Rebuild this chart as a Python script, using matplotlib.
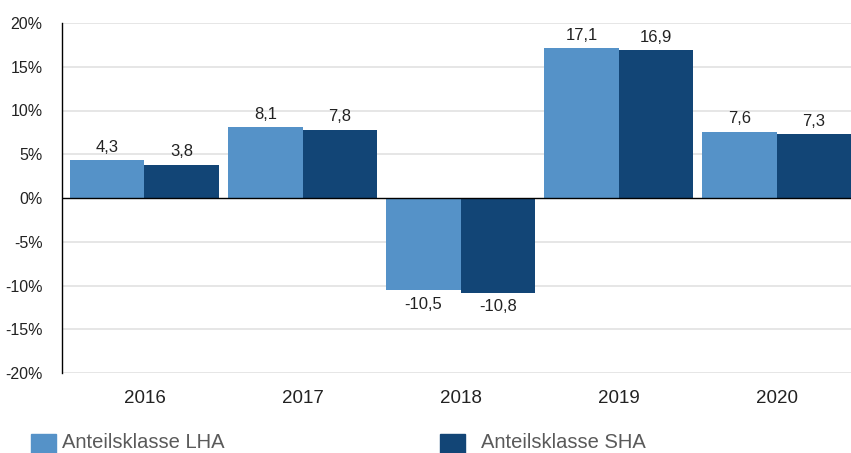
import numpy as np
import matplotlib
matplotlib.use("Agg")
import matplotlib.pyplot as plt
from matplotlib.patches import Rectangle

years = ["2016", "2017", "2018", "2019", "2020"]
lha = [4.3, 8.1, -10.5, 17.1, 7.6]
sha = [3.8, 7.8, -10.8, 16.9, 7.3]
series_names = ["Anteilsklasse LHA", "Anteilsklasse SHA"]
colors = ["#5592c8", "#124576"]
yticks = [-20, -15, -10, -5, 0, 5, 10, 15, 20]

plt.rcParams['font.family'] = ['Liberation Sans', 'DejaVu Sans']

fig = plt.figure(figsize=(8.51, 4.53), dpi=100)
ax = fig.add_axes([62 / 851, 1 - 373 / 453, 1 - 62 / 851, 350 / 453])

x = np.arange(len(years))
w = 0.47
b1 = ax.bar(x - w / 2, lha, w, color=colors[0], zorder=3)
b2 = ax.bar(x + w / 2, sha, w, color=colors[1], zorder=3)

for bars, vals in ((b1, lha), (b2, sha)):
    for r, v in zip(bars, vals):
        cx = r.get_x() + r.get_width() / 2
        txt = ("%.1f" % v).replace(".", ",")
        if v >= 0:
            ax.annotate(txt, (cx, v), xytext=(0, 4), textcoords="offset points",
                        ha="center", va="bottom", fontsize=12, color="#222222")
        else:
            ax.annotate(txt, (cx, v), xytext=(0, -5), textcoords="offset points",
                        ha="center", va="top", fontsize=12, color="#222222")

ax.set_xlim(-0.522, 4.471)
ax.set_ylim(-20, 20)
ax.set_yticks(yticks)
ax.set_yticklabels(["%d%%" % t for t in yticks])
ax.set_xticks(x)
ax.set_xticklabels(years)
ax.tick_params(axis="y", length=0, pad=14, labelsize=11.5, labelcolor="#222222")
ax.tick_params(axis="x", length=0, pad=12, labelsize=13.5, labelcolor="#222222")

for t in yticks:
    if t != 0:
        ax.axhline(t, color="#e2e2e2", lw=1.2, zorder=1)
ax.axhline(0, color="black", lw=1, zorder=4)

for s in ["top", "right", "bottom"]:
    ax.spines[s].set_visible(False)
ax.spines["left"].set_color("black")
ax.spines["left"].set_linewidth(1)

# legend
leg_x = [31, 440]
text_x = [62, 481]
for i in range(2):
    fig.add_artist(Rectangle((leg_x[i] / 851, -6 / 453), 25 / 851, 25 / 453,
                             color=colors[i], transform=fig.transFigure))
    fig.text(text_x[i] / 851, 1 - 443 / 453, series_names[i], fontsize=14.5,
             color="#5a5a5a", va="center", ha="left")

fig.savefig("out.png", dpi=100)
